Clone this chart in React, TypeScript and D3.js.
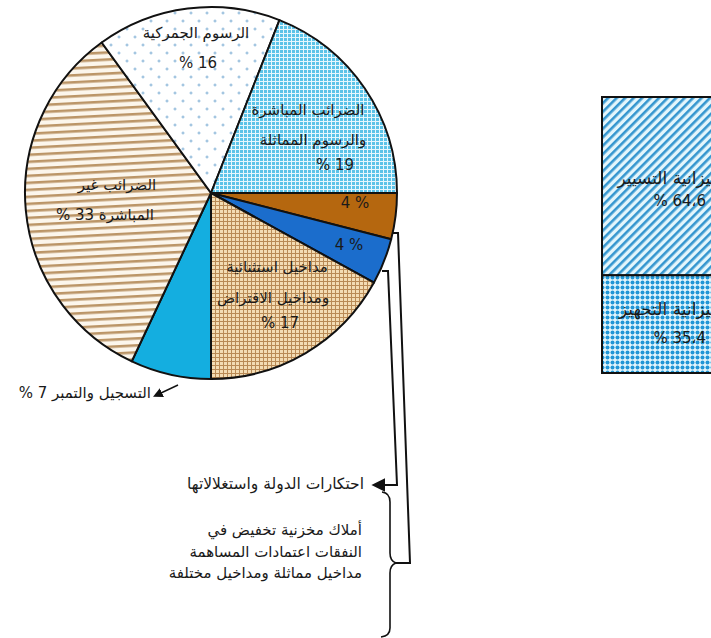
import * as React from 'react'
import * as d3 from 'd3'

// revenue shares (pie), clockwise from 3 o'clock
const sliceKeys = ['domains', 'monopolies', 'exceptional', 'registration', 'indirect', 'customs', 'direct']
const sliceNames = [
  'أملاك مخزنية تخفيض في النفقات اعتمادات المساهمة مداخيل مماثلة ومداخيل مختلفة',
  'احتكارات الدولة واستغلالاتها',
  'مداخيل استثنائية ومداخيل الاقتراض',
  'التسجيل والتمبر',
  'الضرائب غير المباشرة',
  'الرسوم الجمركية',
  'الضرائب المباشرة والرسوم المماثلة',
]
const sliceValues = [4, 4, 17, 7, 33, 16, 19]

// budget split (bar on the right)
const budgetNames = ['ميزانية التسيير', 'ميزانية التجهيز']
const budgetValues = [64.6, 35.4]
const budgetLabels = ['% 64،6', '% 35،4']

const W = 711
const H = 638
const cx = 211
const cy = 193
const R = 186

const fills: Record<string, string> = {
  domains: '#b5670f',
  monopolies: '#1b6dcc',
  exceptional: 'url(#tan)',
  registration: '#14aee0',
  indirect: 'url(#stripes)',
  customs: 'url(#stars)',
  direct: 'url(#check)',
}

const font = 'DejaVu Sans, sans-serif'
const ink = '#1a1a1a'
// force visual order as typed (left to right)
const ltr = (s: string) => '\u202D' + s + '\u202C'
// force right-to-left order
const rtl = (s: string) => '\u202E' + s + '\u202C'

const App = () => {
  const pie = d3.pie<number>().sort(null)
    .startAngle(Math.PI / 2)
    .endAngle(Math.PI / 2 + 2 * Math.PI)
  const arcs = pie(sliceValues)
  const arc = d3.arc<d3.PieArcDatum<number>>().innerRadius(0).outerRadius(R)

  const y = d3.scaleLinear().domain([0, 100]).range([97, 373])
  const x0 = 602
  const x1 = 770
  let acc = 0
  const segs = budgetValues.map((v, i) => {
    const s = { i, y0: y(acc), y1: y(acc + v) }
    acc += v
    return s
  })

  const v = (k: string) => sliceValues[sliceKeys.indexOf(k)]

  const lbl = (t: string, px: number, py: number, isRtl = true, anchor = 'middle', size = 15, key?: string) => (
    <text key={key ?? t + px + py} x={px} y={py} textAnchor={anchor}
      direction={isRtl ? 'rtl' : 'ltr'} fontFamily={font} fontSize={size} fill={ink}>{t}</text>
  )

  return (
    <svg width={W} height={H} style={{ position: 'absolute', left: 0, top: 0, background: '#fff' }}>
      <defs>
        <pattern id="check" width={4} height={4} patternUnits="userSpaceOnUse">
          <rect width={4} height={4} fill="#5cc3e8" />
          <rect width={4} height={1} fill="#e6f7fd" />
          <rect width={1} height={4} fill="#e6f7fd" />
        </pattern>
        <pattern id="tan" width={4} height={4} patternUnits="userSpaceOnUse">
          <rect width={4} height={4} fill="#f3dcb4" />
          <rect width={4} height={1} fill="#b98a55" />
          <rect width={1} height={4} fill="#b98a55" />
        </pattern>
        <pattern id="stripes" width={7} height={7} patternUnits="userSpaceOnUse" patternTransform="rotate(-3)">
          <rect width={7} height={7} fill="#fcf6ec" />
          <rect y={0} width={7} height={2.6} fill="#bb9567" />
        </pattern>
        <pattern id="stars" width={16} height={16} patternUnits="userSpaceOnUse">
          <rect width={16} height={16} fill="#fff" />
          <path d="M4,2.5V5.5M2.5,4H5.5M12,10.5V13.5M10.5,12H13.5" stroke="#86b4d8" strokeWidth={1} />
        </pattern>
        <pattern id="diag" width={6} height={6} patternUnits="userSpaceOnUse" patternTransform="rotate(45)">
          <rect width={6} height={6} fill="#e4f6fc" />
          <rect width={2.6} height={6} fill="#3596cf" />
        </pattern>
        <pattern id="dots" width={5} height={5} patternUnits="userSpaceOnUse">
          <rect width={5} height={5} fill="#e2f5fc" />
          <circle cx={2.5} cy={2.5} r={2} fill="#2096d6" />
        </pattern>
        <marker id="arr" viewBox="0 0 10 10" refX={1} refY={5} markerWidth={7} markerHeight={7} orient="auto-start-reverse">
          <path d="M0,0L10,5L0,10z" fill="#111" />
        </marker>
      </defs>

      {/* pie */}
      <g transform={`translate(${cx},${cy})`}>
        {arcs.map((a, i) => (
          <path key={sliceKeys[i]} d={arc(a) || ''} fill={fills[sliceKeys[i]]}
            stroke="#111" strokeWidth={2} strokeLinejoin="round">
            <title>{sliceNames[i]}</title>
          </path>
        ))}
      </g>

      {/* pie labels */}
      {lbl('الرسوم الجمركية', 196, 38)}
      {lbl(ltr(`% ${v('customs')}`), 198, 68, false)}
      {lbl('الضرائب المباشرة', 308, 115)}
      {lbl('والرسوم المماثلة', 313, 145)}
      {lbl(ltr(`% ${v('direct')}`), 335, 170, false)}
      {lbl('الضرائب غير', 117, 190)}
      {lbl(rtl(`المباشرة ${v('indirect')} %`), 105, 220)}
      {lbl(ltr(`${v('domains')} %`), 355, 208, false, 'middle', 15, 'dom')}
      {lbl(ltr(`${v('monopolies')} %`), 349, 250, false, 'middle', 15, 'mon')}
      {lbl('مداخيل استثنائية', 277, 272)}
      {lbl('ومداخيل الاقتراض', 273, 303)}
      {lbl(ltr(`% ${v('exceptional')}`), 280, 328, false)}

      {/* registration callout */}
      {lbl(rtl(`التسجيل والتمبر ${v('registration')} %`), 151, 398, true, 'start')}
      <line x1={178} y1={385} x2={161} y2={393} stroke="#111" strokeWidth={1.4} markerEnd="url(#arr)" />

      {/* connectors from the two small slices */}
      <path d="M392,233L398,233L410,563L396,563" fill="none" stroke="#111" strokeWidth={2} />
      <path d="M382,271L388,271L397,485L384,485" fill="none" stroke="#111" strokeWidth={2} markerEnd="url(#arr)" />
      <path d="M382,492Q390,493 390,502L390,553Q390,561 396,563Q390,565 390,573L390,628Q390,636 381,637"
        fill="none" stroke="#111" strokeWidth={1.6} />

      {lbl(sliceNames[1], 364, 489, true, 'start', 15.5)}
      {lbl('أملاك مخزنية تخفيض في', 362, 535, true, 'start')}
      {lbl('النفقات اعتمادات المساهمة', 362, 557, true, 'start')}
      {lbl('مداخيل مماثلة ومداخيل مختلفة', 362, 578, true, 'start')}

      {/* budget bar */}
      {segs.map(s => (
        <rect key={budgetNames[s.i]} x={x0} y={s.y0} width={x1 - x0} height={s.y1 - s.y0}
          fill={s.i === 0 ? 'url(#diag)' : 'url(#dots)'} stroke="#111" strokeWidth={2} />
      ))}
      {segs.map(s => {
        const mid = (s.y0 + s.y1) / 2
        return (
          <g key={'t' + s.i}>
            {lbl(budgetNames[s.i], 720, mid - (s.i === 0 ? 2 : 9), true, 'start', 17)}
            {lbl(ltr(budgetLabels[s.i]), 706, mid + (s.i === 0 ? 20 : 19), false, 'end', 15)}
          </g>
        )
      })}
    </svg>
  )
}

export default App
